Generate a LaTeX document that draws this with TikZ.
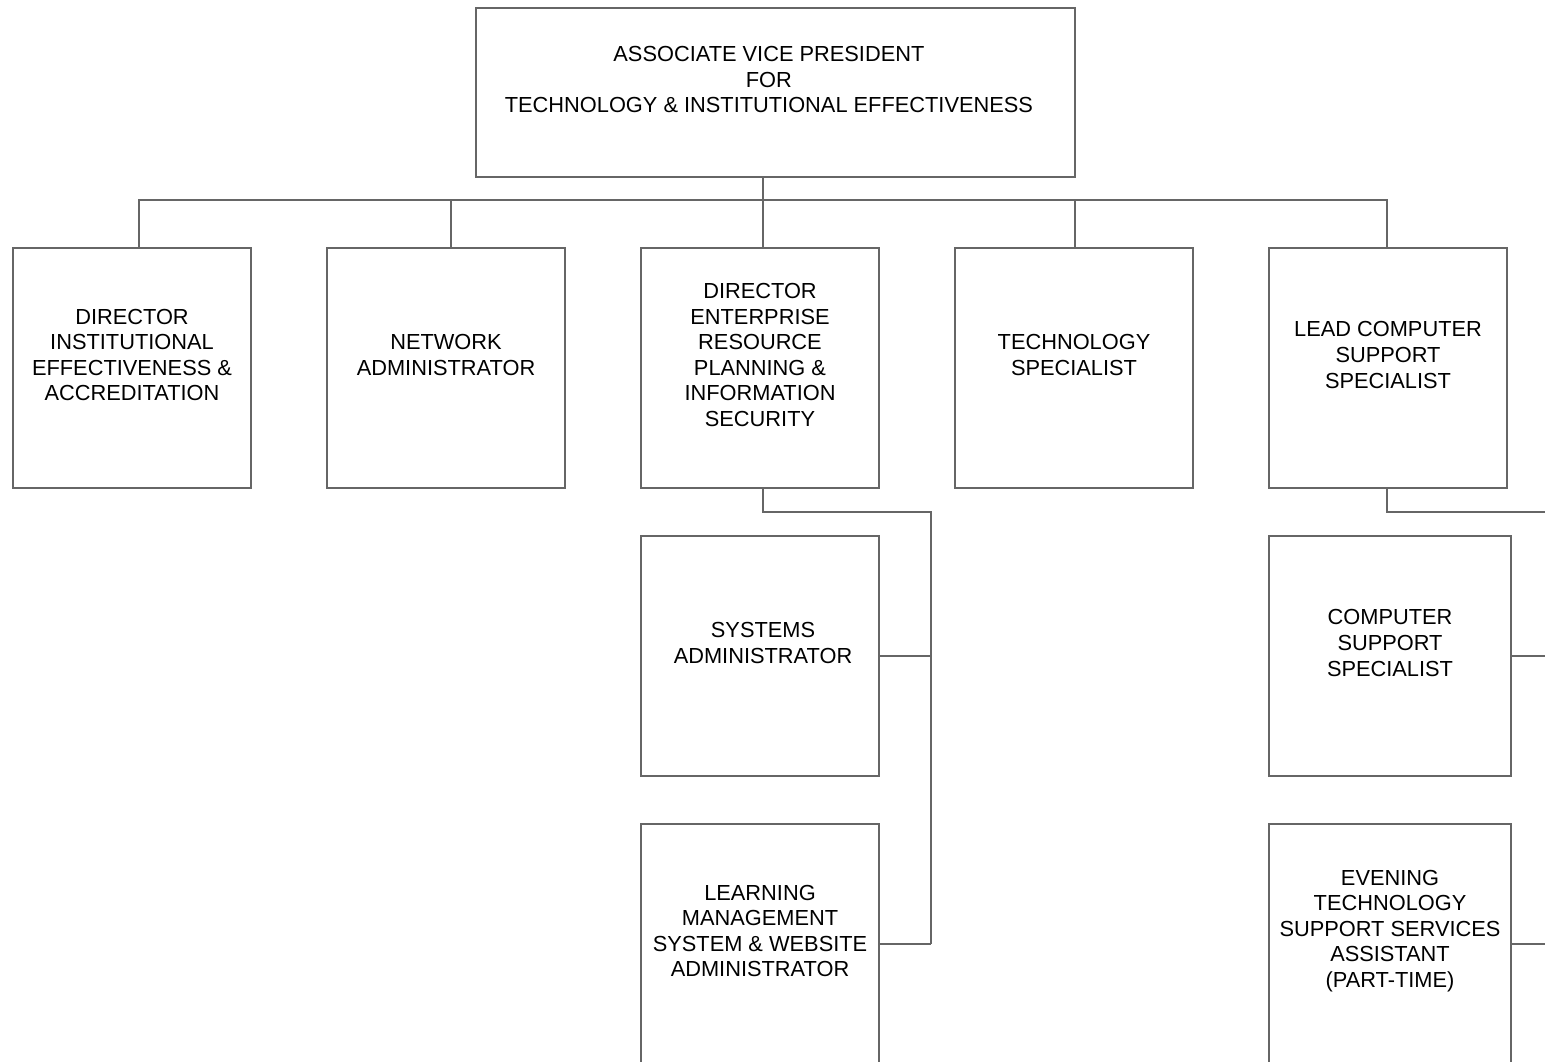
\documentclass[tikz,border=0pt]{standalone}
\usepackage{fontspec}
\setmainfont{Liberation Sans}
\usetikzlibrary{positioning}

\tikzset{
  post/.style={draw=black!60, line width=0.6pt, minimum width=119pt, minimum height=120pt, inner sep=0pt},
  title/.style={align=center, text=black, font=\fontsize{10.9}{12.8}\selectfont},
  wire/.style={draw=black!60, line width=0.6pt},
}

\begin{document}
\begin{tikzpicture}[x=0.5pt, y=-0.5pt]
  \useasboundingbox (0,0) rectangle (1545,1061);
  \clip (0,0) rectangle (1545,1061);

  % top box
  \node[post, minimum width=299.5pt, minimum height=84.5pt] (avp) at (775.5,92.5) {};
  \node[title] (avptxt) at ([xshift=-3.3pt, yshift=6.5pt]avp.center) {ASSOCIATE VICE PRESIDENT\\FOR\\TECHNOLOGY \& INSTITUTIONAL EFFECTIVENESS};

  % first row
  \node[post] (ieac) at (132,368) {};
  \node[post] (net) at (446,368) {};
  \node[post] (erp) at (760,368) {};
  \node[post] (tech) at (1074,368) {};
  \node[post] (lead) at (1388,368) {};
  \node[title] (ieactxt) at ([yshift=6.5pt]ieac.center) {DIRECTOR\\INSTITUTIONAL\\EFFECTIVENESS \&\\ACCREDITATION};
  \node[title] (nettxt) at ([yshift=6.5pt]net.center) {NETWORK\\ADMINISTRATOR};
  \node[title] (erptxt) at ([yshift=6.5pt]erp.center) {DIRECTOR\\ENTERPRISE\\RESOURCE\\PLANNING \&\\INFORMATION\\SECURITY};
  \node[title] (techtxt) at ([yshift=6.5pt]tech.center) {TECHNOLOGY\\SPECIALIST};
  \node[title] (leadtxt) at ([yshift=6.5pt]lead.center) {LEAD COMPUTER\\SUPPORT\\SPECIALIST};

  % under the director erp
  \node[post] (sysad) at (760,656) {};
  \node[post] (lms) at (760,944) {};
  \node[title] (sysadtxt) at ([xshift=1.5pt, yshift=6.5pt]sysad.center) {SYSTEMS\\ADMINISTRATOR};
  \node[title] (lmstxt) at ([yshift=6.5pt]lms.center) {LEARNING\\MANAGEMENT\\SYSTEM \& WEBSITE\\ADMINISTRATOR};

  % under the lead specialist
  \node[post, minimum width=121pt] (css) at (1390,656) {};
  \node[post, minimum width=121pt] (eve) at (1390,944) {};
  \node[title] (csstxt) at ([yshift=6.5pt]css.center) {COMPUTER\\SUPPORT\\SPECIALIST};
  \node[title] (evetxt) at ([yshift=6.5pt]eve.center) {EVENING\\TECHNOLOGY\\SUPPORT SERVICES\\ASSISTANT\\(PART-TIME)};

  % connectors
  \draw[wire] (avp.south -| 763,0) -- (763,200);
  \draw[wire] (ieac.north -| 139,0) -- (139,200) -- (1387,200) -- (lead.north -| 1387,0);
  \draw[wire] (net.north -| 451,0) -- (451,200);
  \draw[wire] (erp.north -| 763,0) -- (763,200);
  \draw[wire] (tech.north -| 1075,0) -- (1075,200);

  \coordinate (erpbus) at (931,512);
  \draw[wire] (erp.south -| 763,0) |- (erpbus) -- (erpbus |- lms.east);
  \draw[wire] (sysad.east) -- (sysad.east -| erpbus);
  \draw[wire] (lms.east) -- (lms.east -| erpbus);

  \coordinate (leadbus) at (1570,512);
  \draw[wire] (lead.south -| 1387,0) |- (leadbus) -- (leadbus |- eve.east);
  \draw[wire] (css.east) -- (css.east -| leadbus);
  \draw[wire] (eve.east) -- (eve.east -| leadbus);
\end{tikzpicture}
\end{document}
